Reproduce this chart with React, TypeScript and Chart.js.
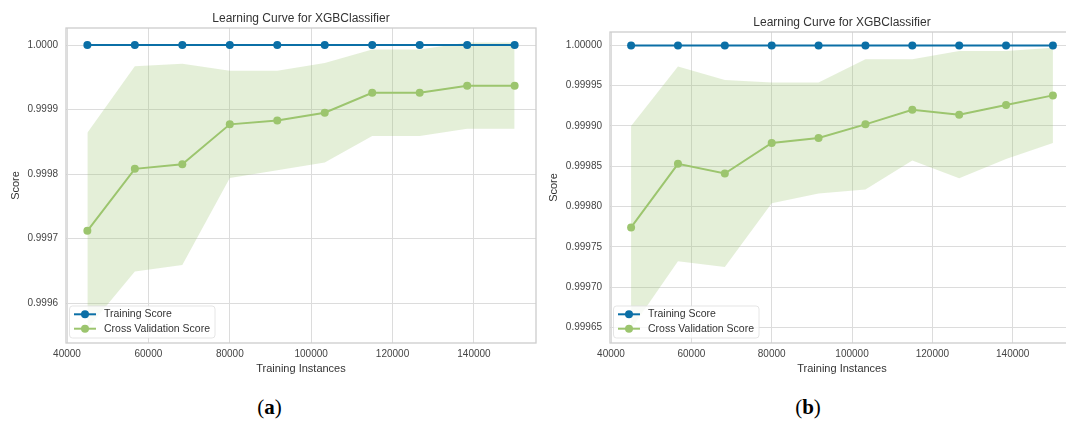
import React, { useEffect, useRef } from "react";
import { Chart, registerables } from "chart.js";

Chart.register(...registerables);

// Training set sizes used for both learning curves
const trainSizes = [45000, 56667, 68333, 80000, 91667, 103333, 115000, 126667, 138333, 150000];
const xTickValues = [40000, 60000, 80000, 100000, 120000, 140000];

// Panel (a)
const trainScoreA = [1, 1, 1, 1, 1, 1, 1, 1, 1, 1];
const cvMeanA = [0.999712, 0.999808, 0.999815, 0.999877, 0.999883, 0.999895, 0.999926, 0.999926, 0.999937, 0.999937];
const cvUpperA = [0.999864, 0.999967, 0.999971, 0.99996, 0.99996, 0.999972, 0.999993, 0.999993, 1.000004, 1.000004];
const cvLowerA = [0.99956, 0.999649, 0.999659, 0.999794, 0.999806, 0.999818, 0.999859, 0.999859, 0.99987, 0.99987];
const yTickValuesA = [0.9996, 0.9997, 0.9998, 0.9999, 1.0];

// Panel (b)
const trainScoreB = [1, 1, 1, 1, 1, 1, 1, 1, 1, 1];
const cvMeanB = [0.999774, 0.999853, 0.999841, 0.999879, 0.999885, 0.999902, 0.99992, 0.999914, 0.999926, 0.999938];
const cvUpperB = [0.9999, 0.999974, 0.999957, 0.999954, 0.999954, 0.999983, 0.999983, 0.999993, 0.999993, 0.999997];
const cvLowerB = [0.999648, 0.999732, 0.999725, 0.999804, 0.999816, 0.999821, 0.999857, 0.999835, 0.999859, 0.999879];
const yTickValuesB = [0.99965, 0.9997, 0.99975, 0.9998, 0.99985, 0.9999, 0.99995, 1.0];

const TITLE = "Learning Curve for XGBClassifier";
const BLUE = "#0b6fa6";
const GREEN = "#9cc56e";
const BAND = "rgba(156, 197, 110, 0.27)";
const GRID = "#dcdcdc";
const FRAME = "#cdcdcd";
const SANS = '"Liberation Sans", Arial, sans-serif';

type PanelProps = {
  trainScore: number[];
  cvMean: number[];
  cvUpper: number[];
  cvLower: number[];
  yTicks: number[];
  yMin: number;
  yMax: number;
  decimals: number;
  width: number;
  height: number;
  yAxisWidth: number;
  padTop: number;
  padRight: number;
  yTitlePad: number;
};

const pts = (ys: number[]) => trainSizes.map((x, i) => ({ x, y: ys[i] }));

// axes frame (all four spines)
const framePlugin = {
  id: "frame",
  beforeDatasetsDraw(chart: any) {
    const { ctx, chartArea: a } = chart;
    ctx.save();
    ctx.strokeStyle = FRAME;
    ctx.lineWidth = 1.3;
    ctx.strokeRect(a.left, a.top, a.right - a.left, a.bottom - a.top);
    ctx.restore();
  },
};

// title centred over the axes
const axesTitlePlugin = {
  id: "axesTitle",
  afterDraw(chart: any) {
    const { ctx, chartArea: a } = chart;
    ctx.save();
    ctx.font = `12px ${SANS}`;
    ctx.fillStyle = "#333333";
    ctx.textAlign = "center";
    ctx.textBaseline = "middle";
    ctx.fillText(TITLE, (a.left + a.right) / 2, a.top - 9.5);
    ctx.restore();
  },
};

// legend in the lower-left corner of the axes
const cornerLegendPlugin = {
  id: "cornerLegend",
  afterDraw(chart: any) {
    const { ctx, chartArea: a } = chart;
    const items = chart.data.datasets.slice(0, 2);
    ctx.save();
    ctx.font = `10.5px ${SANS}`;
    const textX = a.left + 38;
    const w = Math.max(...items.map((d: any) => ctx.measureText(d.label).width));
    const left = a.left + 3.5;
    const right = textX + w + 5;
    const bottom = a.bottom - 5;
    const top = bottom - 32;
    ctx.beginPath();
    ctx.roundRect(left, top, right - left, bottom - top, 3);
    ctx.fillStyle = "rgba(255,255,255,0.8)";
    ctx.fill();
    ctx.strokeStyle = "rgba(222,222,222,0.8)";
    ctx.lineWidth = 1;
    ctx.stroke();
    items.forEach((d: any, i: number) => {
      const y = top + 8.3 + i * 14.4;
      ctx.strokeStyle = d.borderColor;
      ctx.lineWidth = 2;
      ctx.beginPath();
      ctx.moveTo(a.left + 8, y);
      ctx.lineTo(a.left + 30, y);
      ctx.stroke();
      ctx.fillStyle = d.borderColor;
      ctx.beginPath();
      ctx.arc(a.left + 19, y, 4, 0, Math.PI * 2);
      ctx.fill();
      ctx.fillStyle = "#333333";
      ctx.textAlign = "left";
      ctx.textBaseline = "middle";
      ctx.fillText(d.label, textX, y);
    });
    ctx.restore();
  },
};

function LearningCurvePanel(p: PanelProps) {
  const ref = useRef<HTMLCanvasElement | null>(null);

  useEffect(() => {
    if (!ref.current) return;
    const tickFont = { family: SANS, size: 10 };
    const axisTitleFont = { family: SANS, size: 11 };
    const chart = new Chart(ref.current, {
      type: "line",
      data: {
        datasets: [
          {
            label: "Training Score",
            data: pts(p.trainScore),
            borderColor: BLUE,
            backgroundColor: BLUE,
            pointBackgroundColor: BLUE,
            borderWidth: 2,
            pointRadius: 4,
            pointBorderWidth: 0,
            fill: false,
          },
          {
            label: "Cross Validation Score",
            data: pts(p.cvMean),
            borderColor: GREEN,
            backgroundColor: GREEN,
            pointBackgroundColor: GREEN,
            borderWidth: 2,
            pointRadius: 4,
            pointBorderWidth: 0,
            fill: false,
          },
          {
            label: "cv upper",
            data: pts(p.cvUpper),
            borderWidth: 0,
            pointRadius: 0,
            backgroundColor: BAND,
            fill: "+1",
          },
          {
            label: "cv lower",
            data: pts(p.cvLower),
            borderWidth: 0,
            pointRadius: 0,
            fill: false,
          },
        ],
      },
      options: {
        animation: false,
        responsive: false,
        maintainAspectRatio: false,
        events: [],
        layout: { padding: { top: p.padTop, right: p.padRight, bottom: 0, left: 0 } },
        plugins: {
          legend: { display: false },
          title: { display: false },
          tooltip: { enabled: false },
        },
        scales: {
          x: {
            type: "linear",
            min: 39750,
            max: 155250,
            afterBuildTicks: (s: any) => {
              s.ticks = xTickValues.map((v) => ({ value: v }));
            },
            afterFit: (s: any) => {
              s.height = 33;
            },
            ticks: {
              callback: (v: any) => String(v),
              font: tickFont,
              color: "#444444",
              padding: 5,
              maxRotation: 0,
              autoSkip: false,
            },
            grid: { color: GRID, lineWidth: 1, drawTicks: false },
            border: { display: false },
            title: {
              display: true,
              text: "Training Instances",
              font: axisTitleFont,
              color: "#333333",
              padding: 0,
            },
          },
          y: {
            type: "linear",
            min: p.yMin,
            max: p.yMax,
            afterBuildTicks: (s: any) => {
              s.ticks = p.yTicks.map((v) => ({ value: v }));
            },
            afterFit: (s: any) => {
              s.width = p.yAxisWidth;
            },
            ticks: {
              callback: (v: any) => Number(v).toFixed(p.decimals),
              font: tickFont,
              color: "#444444",
              padding: 8,
              autoSkip: false,
            },
            grid: { color: GRID, lineWidth: 1, drawTicks: false },
            border: { display: false },
            title: {
              display: true,
              text: "Score",
              font: axisTitleFont,
              color: "#333333",
              padding: { top: p.yTitlePad, bottom: 0 },
            },
          },
        },
      } as any,
      plugins: [framePlugin, axesTitlePlugin, cornerLegendPlugin],
    });
    return () => chart.destroy();
  }, []);

  return (
    <canvas
      ref={ref}
      width={p.width}
      height={p.height}
      style={{ width: p.width, height: p.height, display: "block" }}
    />
  );
}

const captionStyle: React.CSSProperties = {
  position: "absolute",
  top: 394,
  width: 60,
  textAlign: "center",
  fontFamily: '"Liberation Serif", "Times New Roman", serif',
  fontSize: 21,
  lineHeight: "26px",
  color: "#000",
};

export default function App() {
  return (
    <div
      style={{
        position: "fixed",
        left: 0,
        top: 0,
        width: 1066,
        height: 421,
        overflow: "hidden",
        background: "#ffffff",
      }}
    >
      <div style={{ position: "absolute", left: 0, top: 0 }}>
        <LearningCurvePanel
          trainScore={trainScoreA}
          cvMean={cvMeanA}
          cvUpper={cvUpperA}
          cvLower={cvLowerA}
          yTicks={yTickValuesA}
          yMin={0.999538}
          yMax={1.0000264}
          decimals={4}
          width={560}
          height={376}
          yAxisWidth={66}
          padTop={28}
          padRight={24}
          yTitlePad={9}
        />
      </div>
      <div style={{ position: "absolute", left: 540, top: 0 }}>
        <LearningCurvePanel
          trainScore={trainScoreB}
          cvMean={cvMeanB}
          cvUpper={cvUpperB}
          cvLower={cvLowerB}
          yTicks={yTickValuesB}
          yMin={0.9996305}
          yMax={1.0000167}
          decimals={5}
          width={540}
          height={376}
          yAxisWidth={70}
          padTop={32}
          padRight={6}
          yTitlePad={7}
        />
      </div>
      <div style={{ ...captionStyle, left: 239.5 }}>
        (<b>a</b>)
      </div>
      <div style={{ ...captionStyle, left: 778 }}>
        (<b>b</b>)
      </div>
    </div>
  );
}
